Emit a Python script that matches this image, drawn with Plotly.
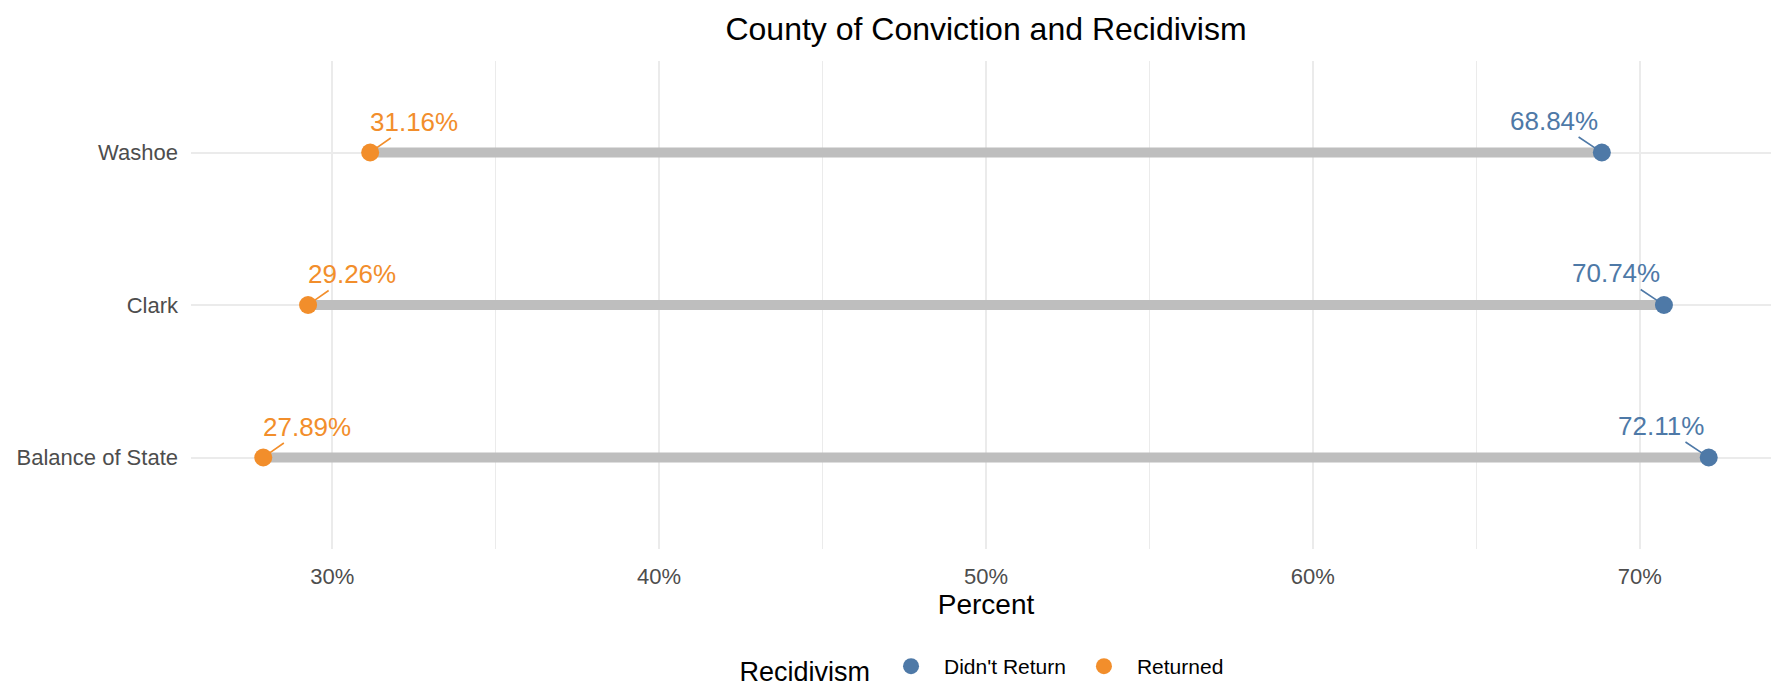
import plotly.graph_objects as go

counties = ["Balance of State", "Clark", "Washoe"]
didnt_return = [72.11, 70.74, 68.84]
returned = [27.89, 29.26, 31.16]

_FONT = "Arial, Liberation Sans, sans-serif"
_BLUE = "#4E79A7"
_ORANGE = "#F28E2B"
_GRID = "#EBEBEB"
_AXIS_TEXT = "#4D4D4D"

fig = go.Figure()

# grey dumbbell bars
seg_x, seg_y = [], []
for c, r, d in zip(counties, returned, didnt_return):
    seg_x += [r, d, None]
    seg_y += [c, c, None]
fig.add_trace(go.Scatter(
    x=seg_x, y=seg_y, mode="lines",
    line=dict(color="#BEBEBE", width=10),
    showlegend=False, hoverinfo="skip",
))

fig.add_trace(go.Scatter(
    x=didnt_return, y=counties, mode="markers", name="Didn't Return",
    marker=dict(color=_BLUE, size=18),
))
fig.add_trace(go.Scatter(
    x=returned, y=counties, mode="markers", name="Returned",
    marker=dict(color=_ORANGE, size=18),
))

# repelled-style labels
annotations = []
for c, v in zip(counties, returned):
    annotations.append(dict(
        x=v, y=c, text=f"{v:.2f}%", showarrow=True, arrowhead=0,
        arrowwidth=1.6, arrowcolor=_ORANGE, ax=44, ay=-31, standoff=7,
        font=dict(family=_FONT, size=26, color=_ORANGE),
    ))
for c, v in zip(counties, didnt_return):
    annotations.append(dict(
        x=v, y=c, text=f"{v:.2f}%", showarrow=True, arrowhead=0,
        arrowwidth=1.6, arrowcolor=_BLUE, ax=-48, ay=-32, standoff=7,
        font=dict(family=_FONT, size=26, color=_BLUE),
    ))

lo = min(returned + didnt_return)
hi = max(returned + didnt_return)
pad = (hi - lo) * 0.05

fig.update_layout(
    width=1779, height=690,
    plot_bgcolor="white", paper_bgcolor="white",
    font=dict(family=_FONT, color="black"),
    margin=dict(l=183, r=6, t=53, b=149),
    title=dict(
        text="County of Conviction and Recidivism",
        font=dict(family=_FONT, size=32, color="black"),
        x=0.5, xref="paper", xanchor="center",
        y=1 - 21 / 690, yref="container", yanchor="middle",
    ),
    xaxis=dict(
        range=[lo - pad, hi + pad], automargin=False,
        tick0=0, dtick=10, ticksuffix="%",
        showgrid=True, gridcolor=_GRID, gridwidth=1.6,
        minor=dict(dtick=5, tick0=0, showgrid=True, gridcolor=_GRID, gridwidth=1.2),
        zeroline=False, showline=False,
        ticks="", ticklabelstandoff=12,
        tickfont=dict(family=_FONT, size=22, color=_AXIS_TEXT),
        title=dict(text="Percent", font=dict(family=_FONT, size=28, color="black"), standoff=4),
    ),
    yaxis=dict(
        type="category", categoryorder="array", categoryarray=counties,
        range=[-0.6, 2.6], automargin=False,
        showgrid=True, gridcolor=_GRID, gridwidth=1.6,
        zeroline=False, showline=False,
        ticks="", ticklabelstandoff=12,
        tickfont=dict(family=_FONT, size=22, color=_AXIS_TEXT),
    ),
    legend=dict(
        orientation="h",
        x=975 / 1779, xref="container", xanchor="center",
        y=1 - 661 / 690, yref="container", yanchor="middle",
        title=dict(text="Recidivism", side="left",
                   font=dict(family=_FONT, size=27, color="black")),
        font=dict(family=_FONT, size=21, color="black"),
        itemwidth=56,
    ),
    annotations=annotations,
)

fig.write_html("out.html")
